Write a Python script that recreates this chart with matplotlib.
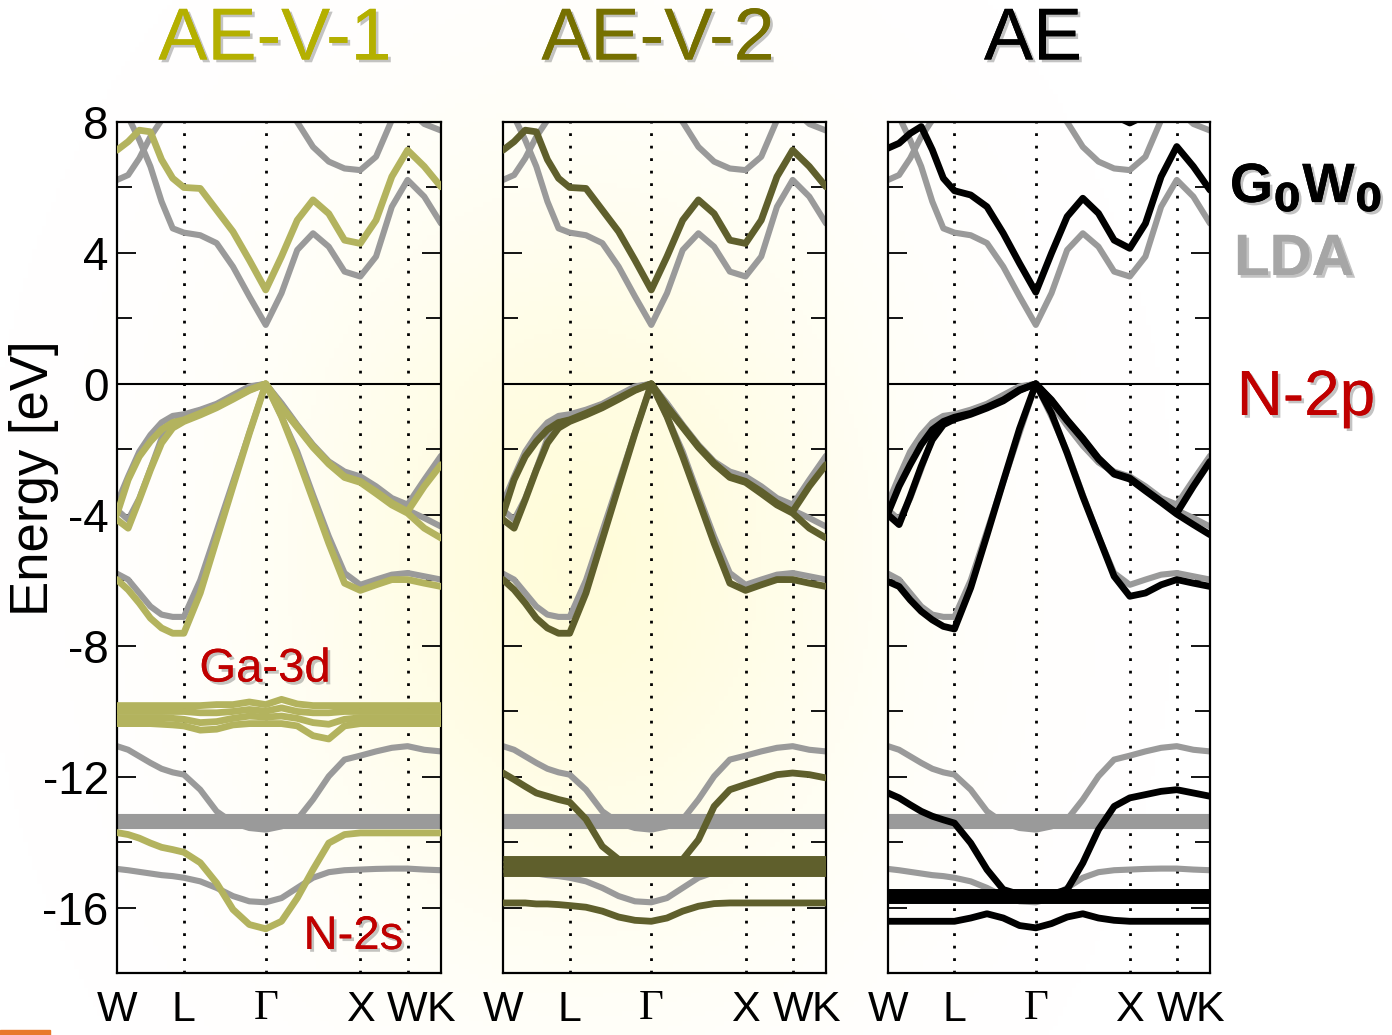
import numpy as np
import matplotlib.pyplot as plt
import matplotlib.patheffects as pe
from matplotlib.patches import Rectangle

plt.rcParams['font.family'] = ['Liberation Sans', 'DejaVu Sans']
plt.rcParams['axes.unicode_minus'] = False

# k-path of the fcc zone, W-L-Gamma-X-W-K (segment lengths in 2pi/a)
sym_labels = ['W', 'L', 'Γ', 'X', 'W', 'K']
sym_k = [0.0, 0.7071, 1.5731, 2.5731, 3.0731, 3.4267]
# where the bands were read along each segment (fraction of the segment)
seg_t = [[0, 1/6, 2/6, 3/6, 4/6, 5/6, 1],
         [1/5, 2/5, 3/5, 4/5, 1],
         [1/6, 2/6, 3/6, 4/6, 5/6, 1],
         [1/3, 2/3, 1],
         [1/2, 1]]
nan = np.nan

# ---- LDA bands (grey, identical in the three panels) ----
lda_cb1 = [8.7, 8.16, 7.45, 6.64, 5.57, 4.75, 4.62, 4.54, 4.30, 3.58, 2.67, 1.80,
           2.77, 4.09, 4.60, 4.19, 3.43, 3.28, 3.89, 5.41, 6.23, 5.72, 4.90]
lda_cb2 = [6.23, 6.38, 6.89, 7.55, 8.06, 8.6, nan, nan, nan, nan, nan, nan,
           8.6, 8.0, 7.24, 6.79, 6.58, 6.53, 6.94, 8.06, 8.4, 7.94, 7.74]
lda_va = [-3.64, -2.83, -2.07, -1.56, -1.18, -0.98, -0.93, -0.79, -0.61, -0.34, -0.08, 0.0,
          -0.59, -1.25, -1.86, -2.37, -2.68, -2.83, -3.13, -3.49, -3.69, -2.93, -2.20]
lda_vb = [-3.85, -4.15, -3.50, -2.60, -1.66, -1.20, -1.00, -0.82, -0.64, -0.37, -0.10, 0.0,
          -0.62, -1.28, -1.89, -2.40, -2.71, -2.86, -3.23, -3.60, -3.86, -4.10, -4.36]
lda_vc = [-5.80, -5.98, -6.39, -6.80, -7.05, -7.12, -7.12, -6.00, -4.50, -3.00, -1.50, 0.0,
          -1.00, -2.07, -3.39, -4.66, -5.78, -6.14, -5.98, -5.83, -5.78, -5.88, -5.98]
lda_s1 = [-11.07, -11.18, -11.38, -11.58, -11.76, -11.87, -11.94, -12.40, -13.06, -13.41, -13.57, -13.62,
          -13.52, -13.31, -12.70, -11.99, -11.48, -11.36, -11.23, -11.12, -11.07, -11.18, -11.23]
lda_s2 = [-14.82, -14.86, -14.91, -14.96, -15.01, -15.04, -15.09, -15.20, -15.40, -15.65, -15.81, -15.84,
          -15.71, -15.40, -15.09, -14.92, -14.86, -14.84, -14.82, -14.81, -14.81, -14.84, -14.86]
lda_d_levels = [-13.24, -13.37, -13.50]

# ---- G0W0, AE-V-1 (also the upper bands of AE-V-2) ----
v1_cb = [7.14, 7.40, 7.75, 7.70, 6.85, 6.28, 6.00, 5.97, 5.31, 4.65, 3.78, 2.87,
         3.89, 5.00, 5.62, 5.20, 4.39, 4.29, 5.00, 6.33, 7.14, 6.64, 6.02]
v1_va = [-3.98, -2.93, -2.22, -1.76, -1.40, -1.18, -1.10, -0.90, -0.69, -0.44, -0.18, 0.0,
         -0.69, -1.30, -1.91, -2.42, -2.83, -2.98, -3.29, -3.64, -3.90, -3.13, -2.47]
v1_vb = [-4.15, -4.41, -3.54, -2.63, -1.81, -1.35, -1.15, -0.95, -0.73, -0.47, -0.20, 0.0,
         -0.72, -1.33, -1.94, -2.45, -2.86, -3.01, -3.35, -3.70, -3.95, -4.41, -4.71]
v1_vc = [-5.98, -6.29, -6.70, -7.16, -7.46, -7.62, -7.62, -6.39, -4.76, -3.13, -1.51, 0.0,
         -1.00, -2.22, -3.54, -4.87, -6.09, -6.31, -6.14, -5.98, -5.98, -6.09, -6.19]
v1_d1 = [-9.83, -9.83, -9.83, -9.83, -9.83, -9.83, -9.83, -9.83, -9.80, -9.80, -9.72, -9.80,
         -9.64, -9.78, -9.83, -9.83, -9.83, -9.83, -9.83, -9.83, -9.83, -9.83, -9.83]
v1_d2 = [-10.01, -10.01, -10.01, -10.01, -10.01, -10.01, -10.01, -10.05, -10.05, -10.01, -9.95, -10.0,
         -9.90, -10.01, -10.05, -10.05, -10.01, -10.01, -10.01, -10.01, -10.01, -10.01, -10.01]
v1_d3 = [-10.20, -10.20, -10.20, -10.20, -10.20, -10.22, -10.25, -10.35, -10.32, -10.22, -10.15, -10.18,
         -10.15, -10.22, -10.35, -10.40, -10.25, -10.20, -10.20, -10.20, -10.20, -10.20, -10.20]
v1_d4 = [-10.38, -10.38, -10.38, -10.38, -10.40, -10.42, -10.45, -10.58, -10.55, -10.42, -10.38, -10.38,
         -10.38, -10.45, -10.75, -10.85, -10.45, -10.38, -10.38, -10.38, -10.38, -10.38, -10.38]
v1_s = [-13.71, -13.77, -13.88, -14.03, -14.16, -14.23, -14.31, -14.63, -15.25, -16.06, -16.52, -16.65,
        -16.42, -15.71, -14.84, -14.03, -13.77, -13.72, -13.72, -13.72, -13.72, -13.72, -13.72]

# ---- G0W0, AE-V-2 (lower bands) ----
v2_o1 = [-11.89, -12.09, -12.30, -12.50, -12.60, -12.70, -12.78, -13.30, -14.13, -14.53, -14.63, -14.63,
         -14.63, -14.53, -13.93, -12.91, -12.40, -12.24, -12.09, -11.94, -11.89, -11.94, -12.04]
v2_s = [-15.86, -15.86, -15.86, -15.89, -15.89, -15.91, -15.94, -15.99, -16.11, -16.29, -16.39, -16.42,
        -16.32, -16.11, -15.96, -15.88, -15.86, -15.86, -15.86, -15.86, -15.86, -15.86, -15.86]
v2_d_levels = [-14.52, -14.67, -14.82, -14.96]

# ---- G0W0, AE ----
ae_cb = [7.20, 7.35, 7.65, 7.86, 7.15, 6.28, 5.90, 5.77, 5.41, 4.60, 3.68, 2.80,
         3.99, 5.11, 5.67, 5.21, 4.39, 4.14, 4.90, 6.33, 7.25, 6.64, 5.92]
ae_cb_top = [nan, nan, nan, nan, nan, nan, nan, nan, nan, nan, nan, nan,
             nan, nan, nan, nan, 8.20, 7.97, 8.20, nan, nan, nan, nan]
ae_va = [-3.95, -3.13, -2.47, -1.86, -1.40, -1.15, -1.02, -0.90, -0.71, -0.49, -0.18, 0.0,
         -0.49, -1.10, -1.66, -2.27, -2.73, -2.88, -3.24, -3.59, -3.95, -3.13, -2.37]
ae_vb = [-4.00, -4.30, -3.44, -2.52, -1.71, -1.25, -1.08, -0.93, -0.74, -0.52, -0.20, 0.0,
         -0.52, -1.13, -1.69, -2.30, -2.76, -2.91, -3.27, -3.62, -3.98, -4.30, -4.61]
ae_vc = [-6.04, -6.19, -6.60, -6.95, -7.21, -7.41, -7.49, -6.23, -4.62, -2.98, -1.37, 0.0,
         -0.90, -2.12, -3.44, -4.66, -5.88, -6.49, -6.39, -6.14, -5.98, -6.09, -6.19]
ae_o1 = [-12.50, -12.65, -12.86, -13.06, -13.21, -13.32, -13.42, -14.03, -14.84, -15.45, -15.60, -15.65,
         -15.60, -15.45, -14.64, -13.62, -12.91, -12.65, -12.55, -12.45, -12.40, -12.50, -12.60]
ae_s = [-16.42, -16.42, -16.42, -16.42, -16.42, -16.42, -16.42, -16.32, -16.19, -16.32, -16.55, -16.62,
        -16.49, -16.29, -16.19, -16.32, -16.39, -16.42, -16.42, -16.42, -16.42, -16.42, -16.42]
ae_d_levels = [-15.54, -15.66, -15.78]

titles = ['AE-V-1', 'AE-V-2', 'AE']
title_colors = ['#b4b000', '#767000', '#000000']
band_colors = ['#b3b35e', '#5f5f2c', '#000000']
lda_color = '#9a9a9a'

k = np.concatenate([sym_k[i] + np.array(t) * (sym_k[i + 1] - sym_k[i])
                    for i, t in enumerate(seg_t)])

lda_bands = [lda_cb1, lda_cb2, lda_va, lda_vb, lda_vc, lda_s1, lda_s2]
gw_sets = [
    ([v1_cb, v1_va, v1_vb, v1_vc, v1_d1, v1_d2, v1_d3, v1_d4, v1_s], []),
    ([v1_cb, v1_va, v1_vb, v1_vc, v2_o1, v2_s], v2_d_levels),
    ([ae_cb, ae_cb_top, ae_va, ae_vb, ae_vc, ae_o1, ae_s], ae_d_levels),
]

fig = plt.figure(figsize=(13.92, 10.35), dpi=100)

# faint yellow logo-like glow in the background
bg = fig.add_axes([0, 0, 1, 1], zorder=-10)
gx, gy = np.meshgrid(np.linspace(0, 1392, 300), np.linspace(0, 1035, 220))
glow = np.exp(-((gx - 580) / 280) ** 2 - ((gy - 560) / 360) ** 2)
rgba = np.zeros(gx.shape + (4,))
rgba[..., 0] = 1.0
rgba[..., 1] = 0.97
rgba[..., 2] = 0.62
rgba[..., 3] = 0.38 * glow
bg.imshow(rgba, extent=[0, 1392, 1035, 0], aspect='auto')
bg.set_xlim(0, 1392)
bg.set_ylim(1035, 0)
bg.axis('off')

lefts = [117, 503, 888]
widths = [324, 323, 322]
title_x = [275, 658, 1033]
shadow = [pe.withSimplePatchShadow(offset=(2, -2), shadow_rgbFace='#555555', alpha=0.35), pe.Normal()]

axes = []
for i in range(3):
    ax = fig.add_axes([lefts[i] / 1392, 1 - 973 / 1035, widths[i] / 1392, 851 / 1035])
    ax.set_facecolor('none')
    axes.append(ax)

    for b in lda_bands:
        ax.plot(k, b, color=lda_color, lw=4.4, solid_capstyle='round', solid_joinstyle='round', zorder=2)
    ax.hlines(lda_d_levels, k[0], k[-1], color=lda_color, lw=4.4, zorder=2)

    bands, levels = gw_sets[i]
    for b in bands:
        ax.plot(k, b, color=band_colors[i], lw=4.9, solid_capstyle='round', solid_joinstyle='round', zorder=3)
    if levels:
        ax.hlines(levels, k[0], k[-1], color=band_colors[i], lw=5.0, zorder=3)

    for x in sym_k[1:-1]:
        ax.axvline(x, color='black', lw=2.0, ls=(0, (1, 3.5)), zorder=1)
    ax.axhline(0, color='black', lw=1.5, zorder=1)

    ax.set_xlim(sym_k[0], sym_k[-1])
    ax.set_ylim(-18, 8)
    ax.set_xticks(sym_k)
    ax.set_xticklabels(sym_labels, fontsize=31)
    ax.get_xticklabels()[2].set_fontfamily('Liberation Serif')
    ax.tick_params(axis='x', length=0, pad=12)
    ax.set_yticks([-16, -12, -8, -4, 0, 4, 8])
    ax.set_yticks([-14, -10, -6, -2, 2, 6], minor=True)
    ax.tick_params(axis='y', which='both', direction='in', left=True, right=True, width=1.3)
    ax.tick_params(axis='y', which='major', length=14, labelsize=33, pad=6)
    ax.tick_params(axis='y', which='minor', length=11)
    if i > 0:
        ax.set_yticklabels([])
    for s in ax.spines.values():
        s.set_linewidth(1.6)

    fig.text(title_x[i] / 1392, 1 - 40 / 1035, titles[i], fontsize=53,
             color=title_colors[i], ha='center', va='center', path_effects=shadow)

fig.text(34 / 1392, 1 - 478 / 1035, 'Energy [eV]', rotation=90, fontsize=38,
         ha='center', va='center')

red = '#c00000'
axes[0].text(1.566, -8.73, 'Ga-3d', fontsize=34, color=red, ha='center', va='center',
             path_effects=shadow, zorder=5)
axes[0].text(2.50, -16.9, 'N-2s', fontsize=34, color=red, ha='center', va='center',
             path_effects=shadow, zorder=5)
fig.text(1306 / 1392, 1 - 398 / 1035, 'N-2p', fontsize=46, color=red, ha='center', va='center',
         path_effects=shadow)
fig.text(1306 / 1392, 1 - 188 / 1035, r'G$_\mathbf{0}$W$_\mathbf{0}$', fontsize=40,
         fontweight='bold', color='black', ha='center', va='center', path_effects=shadow)
fig.text(1294 / 1392, 1 - 260 / 1035, 'LDA', fontsize=42, fontweight='bold', color='#a6a6a6',
         ha='center', va='center', path_effects=shadow)

fig.patches.append(Rectangle((0, 0), 50 / 1392, 5 / 1035, transform=fig.transFigure,
                             color='#e8782a', zorder=5))

fig.savefig('out.png', dpi=100)
